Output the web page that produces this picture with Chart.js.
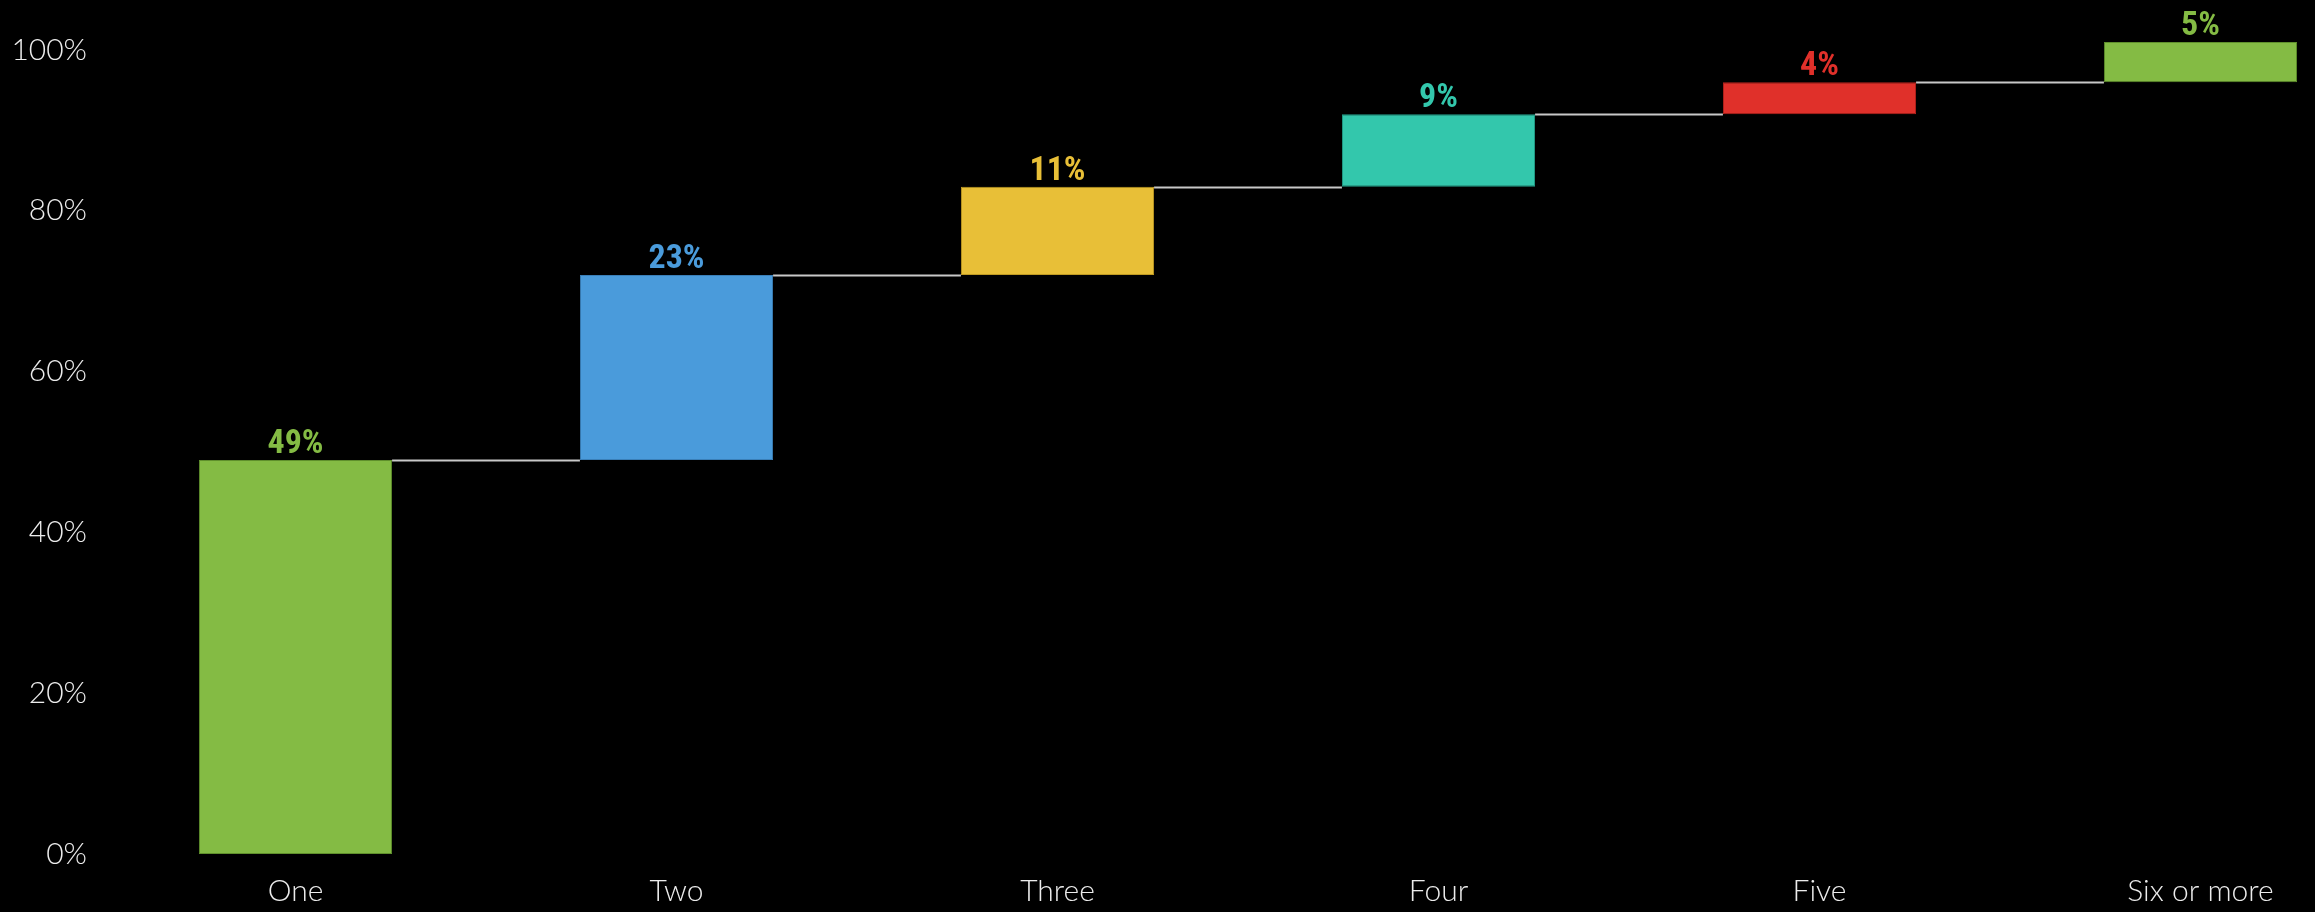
<!DOCTYPE html>
<html>
<head>
<meta charset="utf-8">
<script src="https://cdn.jsdelivr.net/npm/chart.js@4/dist/chart.umd.min.js"></script>
<style>
  html, body { margin: 0; padding: 0; background: #000; overflow: hidden; }
  #wrap { position: absolute; left: 0; top: 0; width: 2391px; height: 912px; }
</style>
</head>
<body>
<div id="wrap"><canvas id="myChart"></canvas></div>
<script>
var categories = ["One", "Two", "Three", "Four", "Five", "Six or more"];
var shares = [49, 23, 11, 9, 4, 5];
var barColors = ["#84bb44", "#4a9bdb", "#e8bf37", "#33c7ac", "#e0302a", "#84bb44"];
var edgeColors = ["#5f8f2c", "#3a7fb8", "#c09a22", "#22a08a", "#b8221d", "#5f8f2c"];
var yTicks = [0, 20, 40, 60, 80, 100];

// floating bars: each step starts where the previous one ended
var steps = [];
var total = 0;
shares.forEach((v) => {
  steps.push([total, total + v]);
  total += v;
});

var axisFont = { family: "Lato, 'Open Sans', sans-serif", size: 30, weight: "300" };

// grey links between the steps + value labels above each bar
var waterfallExtras = {
  id: "waterfallExtras",
  afterDatasetsDraw(chart) {
    var ctx = chart.ctx;
    var y = chart.scales.y;
    var bars = chart.getDatasetMeta(0).data;
    ctx.save();
    ctx.strokeStyle = "#c8c8c8";
    ctx.lineWidth = 2;
    for (var i = 0; i < bars.length - 1; i++) {
      var py = Math.round(y.getPixelForValue(steps[i][1])) + 0.5;
      ctx.beginPath();
      ctx.moveTo(bars[i].x + bars[i].width / 2, py);
      ctx.lineTo(bars[i + 1].x - bars[i + 1].width / 2, py);
      ctx.stroke();
    }
    ctx.font = "bold 34px 'Liberation Sans Narrow', 'Roboto Condensed', sans-serif";
    ctx.textAlign = "center";
    ctx.textBaseline = "alphabetic";
    bars.forEach((bar, i) => {
      ctx.fillStyle = barColors[i];
      ctx.fillText(shares[i] + "%", bar.x, y.getPixelForValue(steps[i][1]) - 7);
    });
    ctx.restore();
  },
};

var ctx = document.getElementById("myChart").getContext("2d");
var myChart = new Chart(ctx, {
  type: "bar",
  data: {
    labels: categories,
    datasets: [
      {
        data: steps,
        backgroundColor: barColors,
        borderColor: edgeColors,
        borderWidth: 1,
        borderSkipped: false,
        categoryPercentage: 1,
        barPercentage: 0.507,
        clip: false,
      },
    ],
  },
  options: {
    responsive: true,
    maintainAspectRatio: false,
    animation: false,
    layout: { padding: { top: 50, right: 0, bottom: 0, left: 0 } },
    plugins: {
      legend: { display: false },
      tooltip: { enabled: false },
    },
    scales: {
      x: {
        grid: { display: false, drawTicks: false },
        border: { display: false },
        ticks: { color: "#ececec", font: axisFont, padding: 19, maxRotation: 0 },
        afterFit: (scale) => {
          scale.height = 58;
        },
      },
      y: {
        min: yTicks[0],
        max: yTicks[yTicks.length - 1],
        grid: { display: false, drawTicks: false },
        border: { display: false },
        afterBuildTicks: (scale) => {
          scale.ticks = yTicks.map((v) => ({ value: v }));
        },
        ticks: {
          color: "#ececec",
          font: axisFont,
          padding: 18,
          callback: (v) => v + "%",
        },
        afterFit: (scale) => {
          scale.width = 105;
        },
      },
    },
  },
  plugins: [waterfallExtras],
});
</script>
</body>
</html>
